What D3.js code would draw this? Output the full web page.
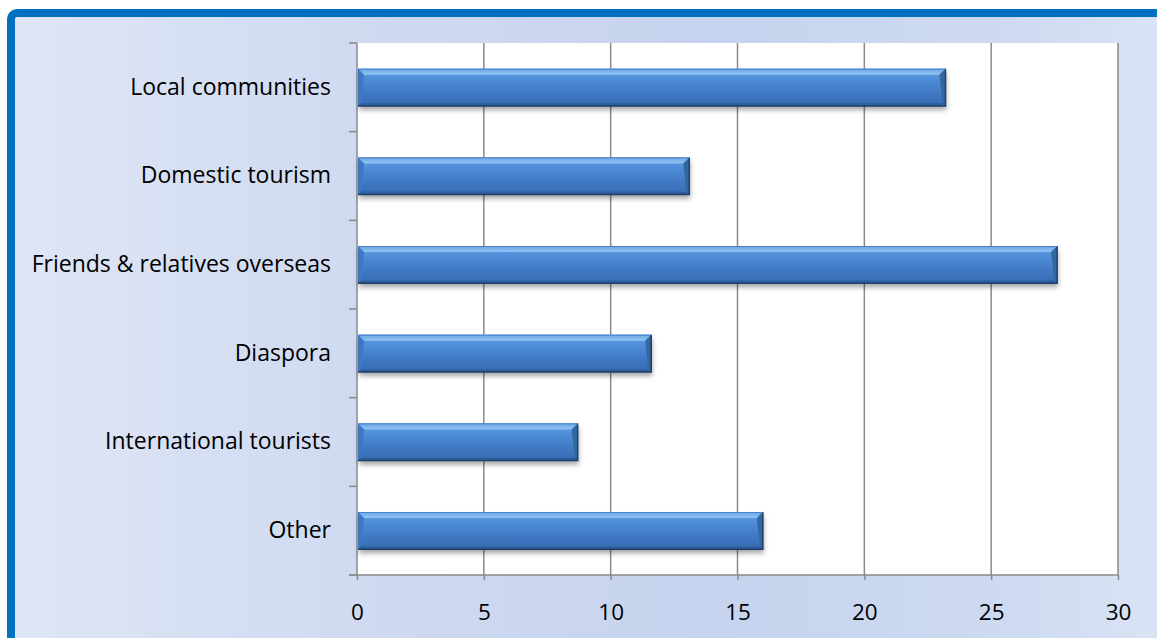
<!DOCTYPE html>
<html><head><meta charset="utf-8">
<script src="https://cdn.jsdelivr.net/npm/d3@7"></script>
<style>html,body{margin:0;padding:0;background:#fff;overflow:hidden}</style>
</head><body>
<script>
const categories = ["Local communities","Domestic tourism","Friends & relatives overseas","Diaspora","International tourists","Other"];
const values = [23.2, 13.1, 27.6, 11.6, 8.7, 16.0];
const xTicks = [0,5,10,15,20,25,30];

const W = 1157, H = 638;
const FONT = "'Open Sans', sans-serif";
const svg = d3.select("body").append("svg").attr("width", W).attr("height", H);
const defs = svg.append("defs");

const bg = defs.append("linearGradient").attr("id","bg").attr("x1","0").attr("x2","1").attr("y1","0").attr("y2","0");
[[0,"#dfe6f5"],[0.3,"#cfdaf1"],[0.6,"#c6d3ee"],[0.85,"#cddaf1"],[1,"#dce5f5"]].forEach(s=>bg.append("stop").attr("offset",s[0]).attr("stop-color",s[1]));

const face = defs.append("linearGradient").attr("id","face").attr("x1","0").attr("x2","0").attr("y1","0").attr("y2","1");
[[0,"#5d9ee4"],[0.35,"#4c89d5"],[0.7,"#3e76c1"],[1,"#386cb2"]].forEach(s=>face.append("stop").attr("offset",s[0]).attr("stop-color",s[1]));
const topG = defs.append("linearGradient").attr("id","topg").attr("x1","0").attr("x2","0").attr("y1","0").attr("y2","1");
[[0,"#6aa6e6"],[1,"#92c3f3"]].forEach(s=>topG.append("stop").attr("offset",s[0]).attr("stop-color",s[1]));

const f = defs.append("filter").attr("id","shadow").attr("x","-5%").attr("y","-30%").attr("width","110%").attr("height","180%");
f.append("feDropShadow").attr("dx",1).attr("dy",4).attr("stdDeviation",2.5).attr("flood-color","#000").attr("flood-opacity",0.35);

// frame
svg.append("rect").attr("x",11).attr("y",13).attr("width",W+20).attr("height",H+20).attr("rx",6)
  .attr("fill","url(#bg)").attr("stroke","#0070c0").attr("stroke-width",8);

const x = d3.scaleLinear().domain([0,30]).range([357,1118]);
const y = d3.scaleBand().domain(categories).range([43,575]).paddingInner(0.58).paddingOuter(0.29);
const yFull = d3.scaleBand().domain(categories).range([43,575]);

// plot area
svg.append("rect").attr("x",x(0)).attr("y",43).attr("width",x(30)-x(0)).attr("height",575-43).attr("fill","#fff");

// gridlines
svg.append("g").selectAll("line").data(xTicks.slice(1)).join("line")
  .attr("x1",d=>x(d)).attr("x2",d=>x(d)).attr("y1",43).attr("y2",575)
  .attr("stroke","#8a8a8a").attr("stroke-width",1.5);

// x axis
const xa = svg.append("g").attr("transform","translate(0,575)")
  .call(d3.axisBottom(x).tickValues(xTicks).tickSize(5).tickSizeOuter(0).tickPadding(24));
xa.select(".domain").attr("stroke","#8a8a8a").attr("stroke-width",1.5).attr("d",`M${x(0)-8},0H${x(30)}`);
xa.selectAll(".tick line").attr("stroke","#8a8a8a").attr("stroke-width",1.5);
xa.selectAll(".tick text").attr("font-family",FONT).attr("font-size",22.5).attr("fill","#000");

// y axis
const ya = svg.append("g").attr("transform",`translate(${x(0)},0)`)
  .call(d3.axisLeft(yFull).tickSize(0).tickPadding(26));
ya.select(".domain").attr("stroke","#8a8a8a").attr("stroke-width",1.5).attr("d","M0,43V575");
ya.selectAll(".tick text").attr("font-family",FONT).attr("font-size",23).attr("fill","#000");
svg.append("g").selectAll("line").data(d3.range(categories.length+1)).join("line")
  .attr("x1",x(0)-8).attr("x2",x(0)).attr("y1",i=>43+i*yFull.step()).attr("y2",i=>43+i*yFull.step())
  .attr("stroke","#8a8a8a").attr("stroke-width",1.5);

// bars
const b = 6;
const bars = svg.append("g").selectAll("g").data(categories.map((c,i)=>({c,v:values[i]}))).join("g");
bars.each(function(d){
  const g = d3.select(this);
  const x0 = x(0)+1, x1 = x(d.v), y0 = y(d.c), y1 = y(d.c)+y.bandwidth();
  g.append("rect").attr("x",x0).attr("y",y0).attr("width",x1-x0).attr("height",y1-y0)
    .attr("fill","url(#face)").attr("filter","url(#shadow)");
  const poly = (pts,fill)=>g.append("polygon").attr("points",pts.map(p=>p.join(",")).join(" ")).attr("fill",fill);
  poly([[x0,y0],[x1,y0],[x1-b,y0+b],[x0+b,y0+b]],"url(#topg)");
  poly([[x0,y1],[x1,y1],[x1-3,y1-3],[x0+3,y1-3]],"#2f5f9f");
  poly([[x0,y0],[x0+b,y0+b],[x0+3,y1-3],[x0,y1]],"#3f78c0");
  poly([[x1,y0],[x1-b,y0+b],[x1-3,y1-3],[x1,y1]],"#34679f");
  g.append("polyline").attr("points",`${x0},${y1} ${x1},${y1} ${x1},${y0}`).attr("fill","none")
    .attr("stroke","#1d3f6c").attr("stroke-width",1.5);
  g.append("line").attr("x1",x0).attr("x2",x1).attr("y1",y0+0.5).attr("y2",y0+0.5).attr("stroke","#4a80c8").attr("stroke-width",1);
});
</script>
</body></html>
